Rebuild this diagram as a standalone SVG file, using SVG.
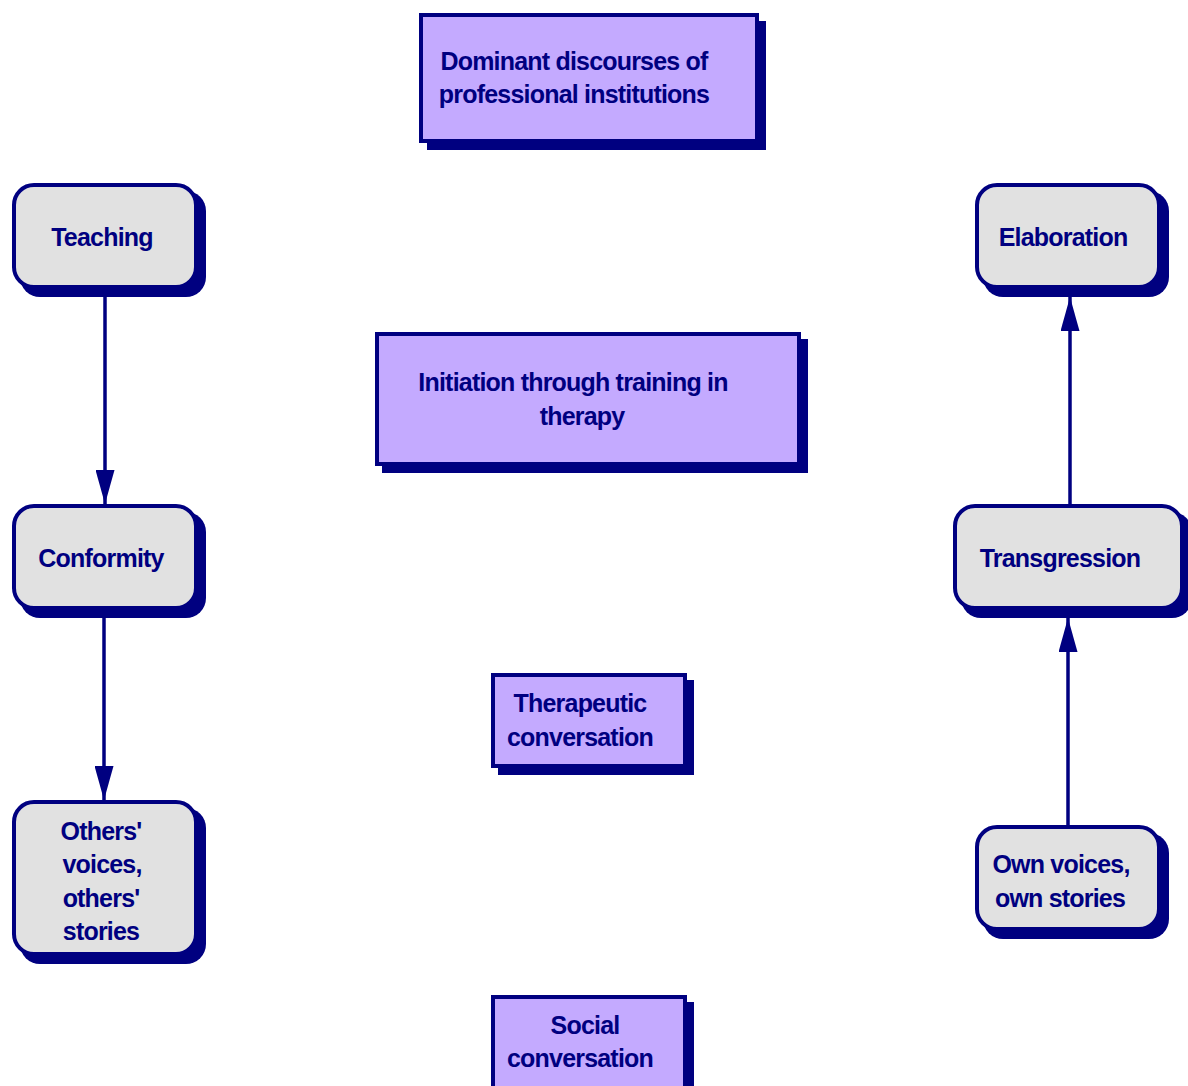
<svg xmlns="http://www.w3.org/2000/svg" width="1188" height="1086" viewBox="0 0 1188 1086">
<defs>
<style>
.shadow{fill:#000080;stroke:none}
.pbox{fill:#c4aaff;stroke:#000080;stroke-width:4}
.gbox{fill:#e1e1e1;stroke:#000080;stroke-width:4}
.t{font-family:"Liberation Sans",Arial,sans-serif;font-weight:bold;font-size:25px;letter-spacing:-0.8px;fill:#000080;text-anchor:middle}
.conn{stroke:#000080;stroke-width:3.5;fill:none}
</style>
<marker id="ah" markerUnits="userSpaceOnUse" markerWidth="34" markerHeight="19" refX="34" refY="9.5" orient="auto" viewBox="0 0 34 19">
<path d="M0,0 L34,9.5 L0,19 z" fill="#000080"/>
</marker>
</defs>
<rect width="1188" height="1086" fill="#ffffff"/>

<g id="connectors">
<line class="conn" x1="105" y1="290" x2="105" y2="504" marker-end="url(#ah)"/>
<line class="conn" x1="104" y1="611" x2="104" y2="800" marker-end="url(#ah)"/>
<line class="conn" x1="1070" y1="504" x2="1070" y2="297" marker-end="url(#ah)"/>
<line class="conn" x1="1068" y1="825" x2="1068" y2="618" marker-end="url(#ah)"/>
</g>

<g id="n-dominant">
<rect class="shadow" x="427" y="21" width="339" height="129"/>
<rect class="pbox" x="421" y="15" width="336" height="126"/>
<text class="t" x="574" y="70">Dominant discourses of</text>
<text class="t" x="574" y="103">professional institutions</text>
</g>

<g id="n-initiation">
<rect class="shadow" x="382" y="339" width="426" height="134"/>
<rect class="pbox" x="377" y="334" width="422" height="130"/>
<text class="t" x="573" y="391">Initiation through training in</text>
<text class="t" x="582" y="425">therapy</text>
</g>

<g id="n-therapeutic">
<rect class="shadow" x="498" y="680" width="196" height="95"/>
<rect class="pbox" x="493" y="675" width="192" height="91"/>
<text class="t" x="580" y="712">Therapeutic</text>
<text class="t" x="580" y="746">conversation</text>
</g>

<g id="n-social">
<rect class="shadow" x="498" y="1002" width="196" height="100"/>
<rect class="pbox" x="493" y="997" width="192" height="100"/>
<text class="t" x="585" y="1034">Social</text>
<text class="t" x="580" y="1067">conversation</text>
</g>

<g id="n-teaching">
<rect class="shadow" x="20" y="191" width="186" height="106" rx="20"/>
<rect class="gbox" x="14" y="185" width="182" height="102" rx="20"/>
<text class="t" x="102" y="246">Teaching</text>
</g>

<g id="n-conformity">
<rect class="shadow" x="20" y="512" width="186" height="106" rx="20"/>
<rect class="gbox" x="14" y="506" width="182" height="102" rx="20"/>
<text class="t" x="101" y="567">Conformity</text>
</g>

<g id="n-others">
<rect class="shadow" x="20" y="808" width="186" height="156" rx="20"/>
<rect class="gbox" x="14" y="802" width="182" height="152" rx="20"/>
<text class="t" x="101" y="840">Others'</text>
<text class="t" x="102" y="873">voices,</text>
<text class="t" x="101" y="907">others'</text>
<text class="t" x="101" y="940">stories</text>
</g>

<g id="n-elaboration">
<rect class="shadow" x="983" y="191" width="186" height="106" rx="20"/>
<rect class="gbox" x="977" y="185" width="182" height="102" rx="20"/>
<text class="t" x="1063" y="246">Elaboration</text>
</g>

<g id="n-transgression">
<rect class="shadow" x="961" y="512" width="231" height="106" rx="20"/>
<rect class="gbox" x="955" y="506" width="227" height="102" rx="20"/>
<text class="t" x="1060" y="567">Transgression</text>
</g>

<g id="n-ownvoices">
<rect class="shadow" x="983" y="833" width="186" height="106" rx="20"/>
<rect class="gbox" x="977" y="827" width="182" height="102" rx="20"/>
<text class="t" x="1061" y="873">Own voices,</text>
<text class="t" x="1060" y="907">own stories</text>
</g>
</svg>
